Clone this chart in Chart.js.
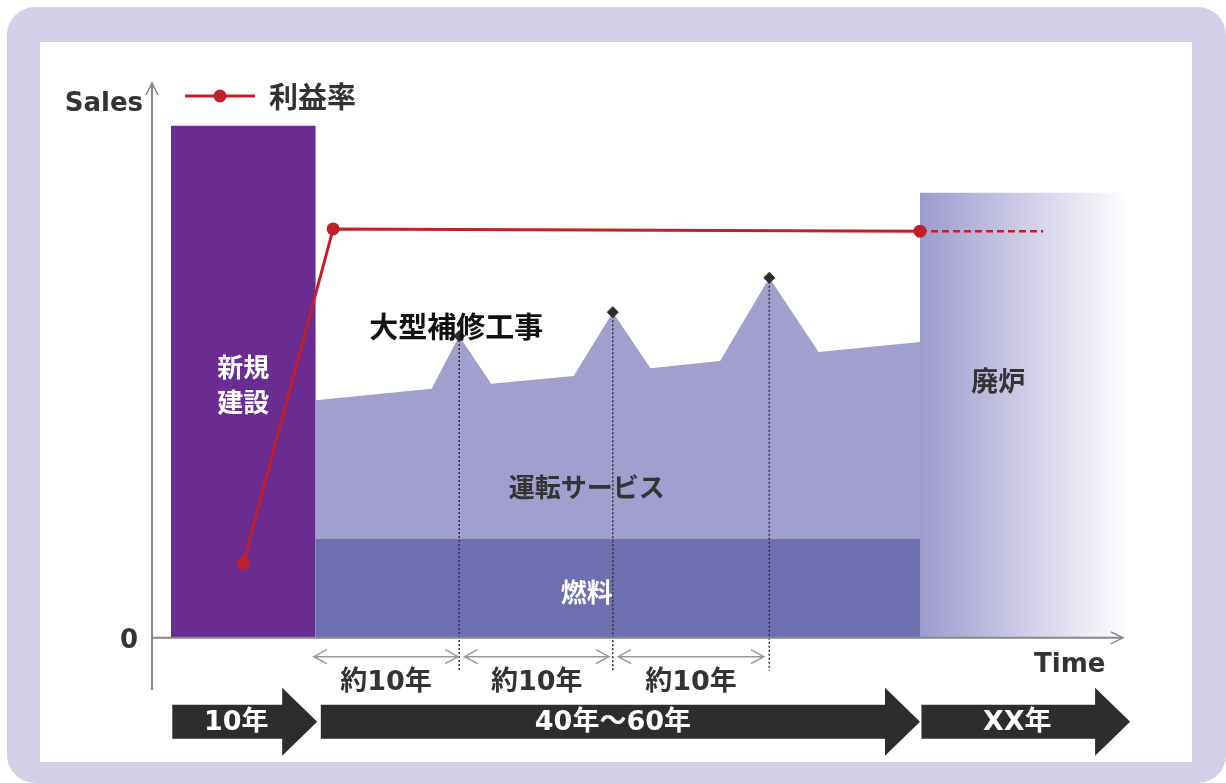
<!DOCTYPE html>
<html>
<head>
<meta charset="utf-8">
<script src="https://cdn.jsdelivr.net/npm/chart.js@4.4.1/dist/chart.umd.min.js"></script>
<style>
  html, body { margin: 0; padding: 0; background: #fff; }
  .frame { position: absolute; left: 7px; top: 7px; width: 1219px; height: 776px; background: #d2cfe6; border-radius: 28px; }
  .panel { position: absolute; left: 40px; top: 42px; width: 1152px; height: 720px; background: #fff; }
  #chart { position: absolute; left: 0; top: 0; }
</style>
</head>
<body>
<div class="frame"></div>
<div class="panel"></div>
<canvas id="chart" width="1226" height="783"></canvas>
<script>
// x = years from start of construction, y = sales (relative)
const buildX = [0, 0, 10, 10];
const buildY = [0, 92.3, 92.3, 0];

const fuelX = [10, 10, 51.7, 51.7];
const fuelY = [0, 17.8, 17.8, 0];

const serviceX = [10, 10, 18, 19.9, 22.1, 27.8, 30.5, 33.1, 37.9, 41.3, 44.7, 51.7, 51.7];
const serviceY = [0, 42.8, 44.9, 54.4, 45.8, 47.2, 58.7, 48.6, 49.9, 64.9, 51.5, 53.3, 0];

const decoX = [51.7, 51.7, 66.2, 66.2];
const decoY = [0, 80.2, 80.2, 0];

const profitX = [5, 11.2, 51.7];
const profitY = [13.5, 73.7, 73.3];
const profitFutureX = [51.7, 60.2];
const profitFutureY = [73.3, 73.3];

const repairX = [19.9, 30.5, 41.3];
const repairY = [54.4, 58.7, 64.9];

const spanStart = [9.8, 20.2, 30.8];
const spanEnd = [19.9, 30.3, 41.0];
const spanLabels = ["約10年", "約10年", "約10年"];

const phaseStart = [0.1, 10.35, 51.8];
const phaseEnd = [10.1, 51.7, 66.2];
const phaseLabels = ["10年", "40年～60年", "XX年"];

const JP = "'Noto Sans CJK JP', 'Noto Sans', sans-serif";
const LAT = "'DejaVu Sans', sans-serif";
const MIX = "'DejaVu Sans', 'Noto Sans CJK JP', sans-serif";

function pts(xs, ys) {
  return xs.map((x, i) => ({ x: x, y: ys[i] }));
}

// dotted drop lines from each peak, separated by gaps
let dropLines = [];
repairX.forEach((x, i) => {
  dropLines.push({ x: x, y: repairY[i] });
  dropLines.push({ x: x, y: -5.9 });
  dropLines.push({ x: x + 0.01, y: null });
});

function decoGradient(ctx) {
  const chart = ctx.chart;
  if (!chart.chartArea) return "#c4c3e2";
  const xs = chart.scales.x;
  const g = chart.ctx.createLinearGradient(xs.getPixelForValue(decoX[0]), 0, xs.getPixelForValue(decoX[3]), 0);
  g.addColorStop(0, "#9c9bcc");
  g.addColorStop(0.45, "#cac8e4");
  g.addColorStop(1, "#ffffff");
  return g;
}

const drawExtras = {
  id: "drawExtras",
  afterDatasetsDraw(chart) {
    const c = chart.ctx;
    const xs = chart.scales.x;
    const ys = chart.scales.y;
    const area = chart.chartArea;
    const y0 = ys.getPixelForValue(0);

    c.save();
    // axes
    c.strokeStyle = "#888";
    c.lineWidth = 2;
    c.beginPath();
    c.moveTo(area.left, area.bottom);
    c.lineTo(area.left, area.top);
    c.moveTo(area.left, y0);
    c.lineTo(xs.getPixelForValue(65.7), y0);
    c.stroke();
    c.lineWidth = 1.5;
    c.beginPath();
    c.moveTo(area.left - 6, area.top + 12);
    c.lineTo(area.left, area.top);
    c.lineTo(area.left + 6, area.top + 12);
    let tip = xs.getPixelForValue(65.7);
    c.moveTo(tip - 12, y0 - 6);
    c.lineTo(tip, y0);
    c.lineTo(tip - 12, y0 + 6);
    c.stroke();

    // double arrows for ~10 year spans
    const ay = ys.getPixelForValue(-3.4);
    c.strokeStyle = "#999";
    c.lineWidth = 1.5;
    spanStart.forEach((s, i) => {
      const a = xs.getPixelForValue(s) + 1;
      const b = xs.getPixelForValue(spanEnd[i]) - 1;
      c.beginPath();
      c.moveTo(a, ay); c.lineTo(b, ay);
      c.moveTo(a + 13, ay - 7); c.lineTo(a, ay); c.lineTo(a + 13, ay + 7);
      c.moveTo(b - 13, ay - 7); c.lineTo(b, ay); c.lineTo(b - 13, ay + 7);
      c.stroke();
      c.fillStyle = "#333";
      c.font = "bold 27px " + MIX;
      c.textAlign = "center";
      c.textBaseline = "middle";
      c.fillText(spanLabels[i], (a + b) / 2, ys.getPixelForValue(-8.1));
    });

    // texts
    c.textBaseline = "middle";
    c.fillStyle = "#333";
    c.font = "bold 26px " + LAT;
    c.textAlign = "right";
    c.fillText("Sales", area.left - 9, 104);
    c.fillText("0", area.left - 14, y0 + 3);
    c.textAlign = "left";
    c.fillText("Time", 1034, 665);

    // legend
    c.strokeStyle = "#c0202a";
    c.lineWidth = 3;
    c.beginPath();
    c.moveTo(185, 96); c.lineTo(255, 96);
    c.stroke();
    c.fillStyle = "#c0202a";
    c.beginPath();
    c.arc(220, 96, 6.5, 0, Math.PI * 2);
    c.fill();
    c.fillStyle = "#333";
    c.font = "bold 29px " + JP;
    c.fillText("利益率", 269, 97);

    c.textAlign = "center";
    c.font = "bold 26px " + JP;
    c.fillStyle = "#fff";
    c.fillText("新規", xs.getPixelForValue(5), ys.getPixelForValue(48.8));
    c.fillText("建設", xs.getPixelForValue(5), ys.getPixelForValue(42.4));
    c.fillText("燃料", xs.getPixelForValue(28.7), ys.getPixelForValue(8.3));
    c.fillStyle = "#333";
    c.fillText("運転サービス", xs.getPixelForValue(28.7), ys.getPixelForValue(27.2));
    c.font = "bold 27px " + JP;
    c.fillText("廃炉", xs.getPixelForValue(57.1), ys.getPixelForValue(46.3));
    c.fillStyle = "#111";
    c.font = "bold 29px " + JP;
    c.fillText("大型補修工事", xs.getPixelForValue(19.7), ys.getPixelForValue(56.0));

    // phase arrows along the bottom
    const py = ys.getPixelForValue(-15.1);
    phaseStart.forEach((s, i) => {
      const a = xs.getPixelForValue(s);
      const t = xs.getPixelForValue(phaseEnd[i]);
      const h = t - 35;
      c.fillStyle = "#2d2d2d";
      c.beginPath();
      c.moveTo(a, py - 17);
      c.lineTo(h, py - 17);
      c.lineTo(h, py - 34);
      c.lineTo(t, py);
      c.lineTo(h, py + 34);
      c.lineTo(h, py + 17);
      c.lineTo(a, py + 17);
      c.closePath();
      c.fill();
      c.fillStyle = "#fff";
      c.font = "bold 27px " + MIX;
      c.fillText(phaseLabels[i], (a + h) / 2 + (i === 1 ? 10 : 9), py + 1);
    });
    c.restore();
  }
};

new Chart(document.getElementById("chart"), {
  type: "line",
  data: {
    datasets: [
      {
        label: "利益率",
        data: pts(profitX, profitY),
        borderColor: "#c0202a",
        backgroundColor: "#c0202a",
        borderWidth: 3,
        pointRadius: 6.5,
        pointBorderWidth: 0,
        fill: false,
        order: 0,
      },
      {
        label: "利益率 (future)",
        data: pts(profitFutureX, profitFutureY),
        borderColor: "#c0202a",
        borderWidth: 2.5,
        borderDash: [7, 4],
        pointRadius: 0,
        fill: false,
        order: 1,
      },
      {
        label: "大型補修工事",
        data: pts(repairX, repairY),
        showLine: false,
        pointStyle: "rectRot",
        pointRadius: 5.5,
        backgroundColor: "#2d2d2d",
        borderColor: "#2d2d2d",
        order: 2,
      },
      {
        label: "drop",
        data: dropLines,
        borderColor: "#333",
        borderWidth: 1.5,
        borderDash: [2, 2],
        pointRadius: 0,
        spanGaps: false,
        fill: false,
        clip: false,
        order: 3,
      },
      {
        label: "新規建設",
        data: pts(buildX, buildY),
        borderWidth: 0,
        pointRadius: 0,
        backgroundColor: "#6a2c91",
        fill: { value: 0 },
        order: 4,
      },
      {
        label: "燃料",
        data: pts(fuelX, fuelY),
        borderWidth: 0,
        pointRadius: 0,
        backgroundColor: "#6e6fb0",
        fill: { value: 0 },
        order: 4,
      },
      {
        label: "運転サービス",
        data: pts(serviceX, serviceY),
        borderWidth: 0,
        pointRadius: 0,
        backgroundColor: "#a09fce",
        fill: { value: 0 },
        order: 5,
      },
      {
        label: "廃炉",
        data: pts(decoX, decoY),
        borderWidth: 0,
        pointRadius: 0,
        backgroundColor: decoGradient,
        fill: { value: 0 },
        order: 5,
      },
    ],
  },
  options: {
    responsive: false,
    animation: false,
    events: [],
    layout: { padding: { left: 152, right: 93, top: 83, bottom: 93 } },
    elements: { line: { tension: 0 } },
    scales: {
      x: { type: "linear", min: -1.3, max: 66.4, display: false },
      y: { type: "linear", min: -9.4, max: 100, display: false },
    },
    plugins: {
      legend: { display: false },
      tooltip: { enabled: false },
    },
  },
  plugins: [drawExtras],
});
</script>
</body>
</html>
